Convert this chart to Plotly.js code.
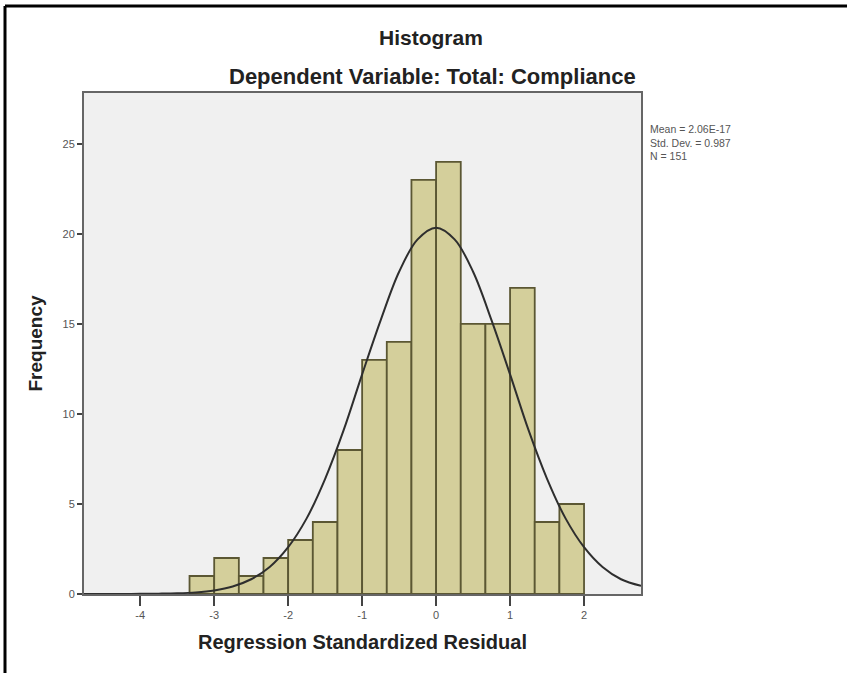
<!DOCTYPE html>
<html>
<head>
<meta charset="utf-8">
<script src="https://cdn.plot.ly/plotly-3.0.1.min.js"></script>
<style>
html,body{margin:0;padding:0;background:#fff;}
#chart{width:847px;height:675px;}
</style>
</head>
<body>
<div id="chart"></div>
<script>
// Histogram bins (left edges, width 1/3) and counts
const binStarts = [-10/3, -3, -8/3, -7/3, -2, -5/3, -4/3, -1, -2/3, -1/3, 0, 1/3, 2/3, 1, 4/3, 5/3];
const binWidth = 1/3;
const counts = [1, 2, 1, 2, 3, 4, 8, 13, 14, 23, 24, 15, 15, 17, 4, 5];

// Normal curve points
const curveX = [-4.76, -4.5, -4.25, -4, -3.75, -3.5, -3.25, -3, -2.75, -2.5, -2.25, -2, -1.75, -1.5, -1.25, -1, -0.75, -0.5, -0.25, 0, 0.25, 0.5, 0.75, 1, 1.25, 1.5, 1.75, 2, 2.25, 2.5, 2.77];
const curveY = [0, 0, 0, 0.01, 0.02, 0.04, 0.09, 0.2, 0.42, 0.82, 1.5, 2.6, 4.2, 6.4, 9.1, 12.2, 15.2, 17.9, 19.7, 20.35, 19.7, 17.9, 15.2, 12.2, 9.1, 6.4, 4.2, 2.6, 1.5, 0.82, 0.45];

const xTicks = [-4, -3, -2, -1, 0, 1, 2];
const yTicks = [0, 5, 10, 15, 20, 25];

const statsLines = ["Mean = 2.06E-17", "Std. Dev. = 0.987", "N = 151"];

const barCenters = binStarts.map(s => s + binWidth / 2);

const traces = [
  {
    type: 'bar',
    x: barCenters,
    y: counts,
    width: binWidth,
    marker: {color: '#d4cf9b', line: {color: '#5b5733', width: 1.8}},
    hoverinfo: 'x+y'
  },
  {
    type: 'scatter',
    mode: 'lines',
    x: curveX,
    y: curveY,
    line: {color: '#2e2e2e', width: 2, shape: 'spline', smoothing: 1},
    hoverinfo: 'skip'
  }
];

const W = 847, H = 675;
const L = 84, R = 641, T = 93, B = 594;
const FONT = 'Liberation Sans, Arial, sans-serif';

const layout = {
  width: W,
  height: H,
  paper_bgcolor: '#ffffff',
  plot_bgcolor: '#f0f0f0',
  showlegend: false,
  bargap: 0,
  margin: {l: L, r: W - R, t: T, b: H - B, pad: 0},
  font: {family: FONT, color: '#333'},
  xaxis: {
    range: [-4.76, 2.77],
    tickvals: xTicks,
    ticktext: xTicks.map(String),
    ticks: 'outside',
    ticklen: 10,
    tickwidth: 1.5,
    tickcolor: '#444',
    tickfont: {size: 11, color: '#555'},
    showgrid: false,
    zeroline: false,
    showline: true,
    linecolor: '#666',
    linewidth: 2,
    mirror: true,
    title: {text: '<b>Regression Standardized Residual</b>', font: {size: 20, color: '#222', family: FONT}, standoff: 15}
  },
  yaxis: {
    range: [0, 27.83],
    tickvals: yTicks,
    ticktext: yTicks.map(String),
    ticks: 'outside',
    ticklen: 5,
    tickwidth: 1.5,
    tickcolor: '#444',
    tickfont: {size: 11, color: '#555'},
    showgrid: false,
    zeroline: false,
    showline: true,
    linecolor: '#666',
    linewidth: 2,
    mirror: true,
    title: {text: '<b>Frequency</b>', font: {size: 19, color: '#222', family: FONT}, standoff: 15}
  },
  annotations: [
    {text: '<b>Histogram</b>', xref: 'paper', yref: 'paper', x: (431 - L) / (R - L), y: 1 + (T - 38) / (B - T),
     xanchor: 'center', yanchor: 'middle', showarrow: false, font: {size: 21, color: '#222'}},
    {text: '<b>Dependent Variable: Total: Compliance</b>', xref: 'paper', yref: 'paper', x: (432 - L) / (R - L), y: 1 + (T - 76) / (B - T),
     xanchor: 'center', yanchor: 'middle', showarrow: false, font: {size: 22, color: '#222'}},
    {text: statsLines.join('<br>'), xref: 'paper', yref: 'paper', x: (648 - L) / (R - L), y: 1 - (121 - T) / (B - T),
     xanchor: 'left', yanchor: 'top', align: 'left', showarrow: false, font: {size: 10.5, color: '#555'}}
  ],
  shapes: [
    {type: 'line', xref: 'paper', yref: 'paper', x0: (5 - L) / (R - L), x1: (W - L) / (R - L), y0: 1 + (T - 6) / (B - T), y1: 1 + (T - 6) / (B - T), line: {color: '#000', width: 3}},
    {type: 'line', xref: 'paper', yref: 'paper', x0: (5 - L) / (R - L), x1: (5 - L) / (R - L), y0: 1 + (T - 6) / (B - T), y1: 1 - (673 - T) / (B - T), line: {color: '#000', width: 3}}
  ]
};

Plotly.newPlot('chart', traces, layout, {displayModeBar: false, staticPlot: true});
</script>
</body>
</html>
